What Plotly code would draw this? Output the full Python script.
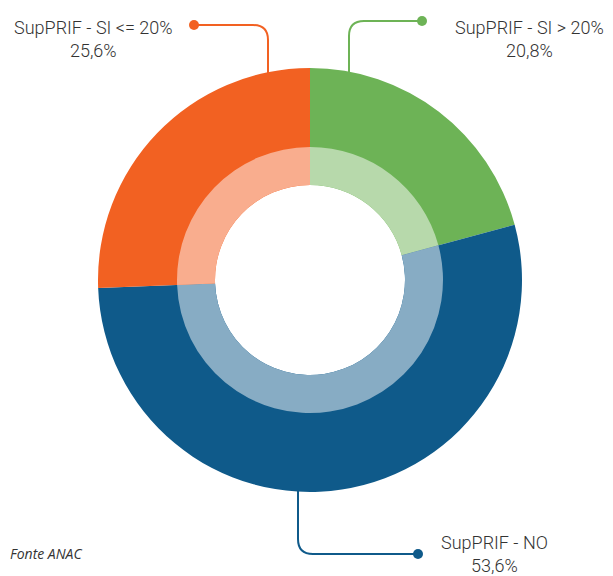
import plotly.graph_objects as go

labels = ["SupPRIF - SI > 20%", "SupPRIF - NO", "SupPRIF - SI <= 20%"]
values = [20.8, 53.6, 25.6]
value_text = ["20,8%", "53,6%", "25,6%"]
dark_colors = ["#6DB356", "#0F5A8A", "#F26122"]
light_colors = ["#B7D9AB", "#87ACC4", "#F9AD8E"]

OFF = 8                     # page body margin
WIN_W, WIN_H = 613, 576
W, H = WIN_W - OFF, WIN_H - OFF
cx, cy = 310 - OFF, 280 - OFF
R_out, R_mid, R_in = 212, 133, 95

def dom(r):
    return dict(x=[(cx - r) / W, (cx + r) / W],
                y=[(H - cy - r) / H, (H - cy + r) / H])

fig = go.Figure()
fig.add_trace(go.Pie(labels=labels, values=values, sort=False, direction="clockwise",
                     rotation=0, hole=R_in / R_out, domain=dom(R_out),
                     marker=dict(colors=dark_colors, line=dict(width=0)),
                     textinfo="none", hoverinfo="label+percent", showlegend=False))
fig.add_trace(go.Pie(labels=labels, values=values, sort=False, direction="clockwise",
                     rotation=0, hole=R_in / R_mid, domain=dom(R_mid),
                     marker=dict(colors=light_colors, line=dict(width=0)),
                     textinfo="none", hoverinfo="label+percent", showlegend=False))

# leader lines in window pixel space
leaders = [
    dict(x=349, y0=72, y1=21, xd=422, tx=529, ty=39),
    dict(x=298, y0=490, y1=554, xd=418, tx=494, ty=554),
    dict(x=268, y0=74, y1=25, xd=194, tx=93, ty=39),
]
shapes = []
annotations = []
for i, L in enumerate(leaders):
    c = dark_colors[i]
    r = 15
    sgn_y = -1 if L["y1"] < L["y0"] else 1
    sgn_x = 1 if L["xd"] > L["x"] else -1
    path = (f"M {L['x']},{L['y0']} L {L['x']},{L['y1'] - sgn_y * r} "
            f"Q {L['x']},{L['y1']} {L['x'] + sgn_x * r},{L['y1']} L {L['xd']},{L['y1']}")
    shapes.append(dict(type="path", path=path, xref="x", yref="y",
                       line=dict(color=c, width=2)))
    shapes.append(dict(type="circle", xref="x", yref="y",
                       x0=L["xd"] - 5, x1=L["xd"] + 5, y0=L["y1"] - 5, y1=L["y1"] + 5,
                       fillcolor=c, line=dict(width=0)))
    annotations.append(dict(x=L["tx"], y=L["ty"], xref="x", yref="y",
                            text=f"{labels[i]}<br>{value_text[i]}", showarrow=False,
                            align="center", xanchor="center", yanchor="middle",
                            font=dict(family="Roboto", size=18, weight=300, color="#333333")))

annotations.append(dict(x=OFF, y=553, xref="x", yref="y", text="<i>Fonte ANAC</i>",
                        showarrow=False, xanchor="left", yanchor="middle",
                        font=dict(family="Open Sans", size=14, color="#333333")))

fig.update_layout(
    width=W, height=H, margin=dict(l=0, r=0, t=0, b=0),
    paper_bgcolor="white", plot_bgcolor="rgba(0,0,0,0)",
    xaxis=dict(range=[OFF, WIN_W], visible=False, fixedrange=True),
    yaxis=dict(range=[WIN_H, OFF], visible=False, fixedrange=True),
    shapes=shapes, annotations=annotations, showlegend=False,
)
fig.write_html("out.html")
